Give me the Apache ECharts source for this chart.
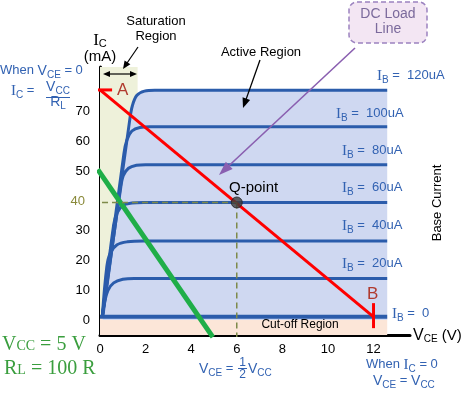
<!DOCTYPE html>
<html><head><meta charset="utf-8">
<script src="https://cdn.jsdelivr.net/npm/echarts@6/dist/echarts.min.js"></script>
<style>html,body{margin:0;padding:0;background:#fff}#c{width:464px;height:393px}</style>
</head><body><div id="c"></div>
<script>
// ---- data ----
const xTicks = [0, 2, 4, 6, 8, 10, 12];
const yTicks = [0, 10, 20, 30, 40, 50, 60, 70];
const curveIB0   = [[0, 1.1], [12.6, 1.1]];
const curveIB20  = [[0.1, 1.1], [0.2, 6], [0.35, 10], [0.6, 12.5], [1.0, 13.7], [1.5, 14.0], [12.6, 14.0]];
const curveIB40  = [[0.1, 1.1], [0.3, 18], [0.45, 22.5], [0.75, 25.3], [1.2, 26.3], [1.9, 26.6], [12.6, 26.6]];
const curveIB60  = [[0.1, 1.1], [0.6, 32], [0.75, 36], [1.0, 38.5], [1.4, 39.3], [1.9, 39.5], [12.6, 39.5]];
const curveIB80  = [[0.1, 1.1], [0.9, 44], [1.02, 48.5], [1.25, 51], [1.6, 52], [2.0, 52.2], [12.6, 52.2]];
const curveIB100 = [[0.1, 1.1], [1.05, 56], [1.18, 60.5], [1.4, 63.5], [1.75, 64.7], [2.2, 64.9], [12.6, 64.9]];
const curveIB120 = [[0.12, 1.1], [1.3, 67], [1.42, 72], [1.62, 75.5], [1.95, 76.9], [2.4, 77.2], [12.6, 77.2]];
const ibNames = ['120uA', '100uA', '80uA', '60uA', '40uA', '20uA', '0'];
const loadLine12V = [[0, 77.3], [12, 1.1]];
const markA = [[-0.53, 77.3], [0.53, 77.3]];
const markB = [[12, 5.7], [12, -2.7]];
const loadLine5V = [[-0.1, 50.6], [4.95, -5.7]];
const qPoint = [6, 39.5];
const qDashH = [[-0.35, 39.5], [6, 39.5]];
const qDashV = [[6, 39.5], [6, -5.7]];
const saturationX = [0, 1.65];
const cutoffTop = 1.1;

// ---- style ----
const BLUE = '#2b5cab', TB = '#3262b2', OLIVE = '#8a8a3a', DASH = '#7e8b4a';
const SANS = 'Liberation Sans', SERIF = 'Liberation Serif';

function curve(data, w, z) {
  return { type: 'line', data, symbol: 'none', smooth: 0.35, z: z || 3, silent: true,
    lineStyle: { color: BLUE, width: w || 3 }, animation: false };
}
function plain(data, color, w, z, dash) {
  return { type: 'line', data, symbol: 'none', clip: false, z, silent: true, animation: false,
    lineStyle: { color, width: w, type: dash ? [6, 4] : 'solid', cap: 'butt' } };
}
function richSet(color, big, sub, txt, pad) {
  return {
    i: { fontFamily: SERIF, fontSize: big, lineHeight: 18, verticalAlign: 'top', fill: color },
    v: { fontFamily: SANS, fontSize: txt + 1, lineHeight: 18, verticalAlign: 'top', fill: color },
    s: { fontFamily: SANS, fontSize: sub, lineHeight: sub, padding: [pad == null ? 6 : pad, 0, 0, 0], verticalAlign: 'top', fill: color },
    t: { fontFamily: SANS, fontSize: txt, lineHeight: 18, verticalAlign: 'top', fill: color }
  };
}
function txt(x, y, text, opts, rot) {
  const el = { type: 'text', x, y, z: 100, silent: true,
    style: Object.assign({ text, fontFamily: SANS, fontSize: 13, fill: '#000', align: 'left', verticalAlign: 'middle' }, opts || {}) };
  if (rot) el.rotation = rot;
  return el;
}
function arrow(x1, y1, x2, y2, color, w, hl, hw) {
  const a = Math.atan2(y2 - y1, x2 - x1), c = Math.cos(a), s = Math.sin(a);
  const bx = x2 - hl * c, by = y2 - hl * s;
  return [
    { type: 'line', z: 100, silent: true, shape: { x1, y1, x2: x2 - hl * 0.6 * c, y2: y2 - hl * 0.6 * s }, style: { stroke: color, lineWidth: w } },
    { type: 'polygon', z: 100, silent: true, shape: { points: [[x2, y2], [bx - hw * s, by + hw * c], [bx + hw * s, by - hw * c]] }, style: { fill: color } }
  ];
}

const ibRich = richSet(TB, 15, 10, 13);
const ibPos = [[377, 78], [336, 116], [342, 153], [342, 190], [342, 228], [342, 266], [392, 316]];
const graphics = [];
ibNames.forEach((n, k) => {
  graphics.push(txt(ibPos[k][0], ibPos[k][1], '{i|I}{s|B}{t| =  ' + n + '}', { rich: ibRich }));
});
// axis titles
graphics.push(txt(100, 41, '{i|I}{s|C}', { align: 'center', rich: richSet('#000', 17, 11, 15, 6) }));
graphics.push(txt(100, 57, '(mA)', { align: 'center', fontSize: 15 }));
graphics.push(txt(413, 337, '{v|V}{s|CE}{t| (V)}', { rich: richSet('#000', 16, 10, 15, 6) }));
graphics.push(txt(437, 203, 'Base Current', { align: 'center' }, Math.PI / 2));
// regions
graphics.push(txt(156, 21, 'Saturation', { align: 'center' }));
graphics.push(txt(156, 36, 'Region', { align: 'center' }));
graphics.push(...arrow(138, 47, 123, 69, '#000', 1.2, 8, 3.5));
graphics.push(...arrow(120, 74, 103, 74, '#000', 1.2, 7, 3));
graphics.push(...arrow(120, 74, 137, 74, '#000', 1.2, 7, 3));
graphics.push(txt(261, 52, 'Active Region', { align: 'center' }));
graphics.push(...arrow(260, 60, 243, 108, '#000', 1.3, 10, 4));
graphics.push(txt(300, 325, 'Cut-off Region', { align: 'center', fontSize: 12 }));
// DC load line callout
graphics.push({ type: 'rect', z: 99, silent: true, shape: { x: 349, y: 2, width: 78, height: 41, r: 8 },
  style: { fill: '#f3e6f3', stroke: '#9c83c0', lineWidth: 1.5, lineDash: [5, 3] } });
graphics.push(txt(388, 14, 'DC Load', { align: 'center', fontSize: 14, fill: '#7b6a9c' }));
graphics.push(txt(388, 29, 'Line', { align: 'center', fontSize: 14, fill: '#7b6a9c' }));
graphics.push(...arrow(355, 48, 219, 175, '#8a5fb0', 1.6, 14, 5));
// points
graphics.push(txt(117, 90, 'A', { fontSize: 17, fill: '#b03a2e' }));
graphics.push(txt(367, 294, 'B', { fontSize: 17, fill: '#b03a2e' }));
graphics.push(txt(229, 188, 'Q-point', { fontSize: 15 }));
// left formulas
const lb = richSet(TB, 15, 10, 13);
graphics.push(txt(0, 73, '{t|When }{v|V}{s|CE}{t| = 0}', { rich: lb }));
graphics.push(txt(11, 93, '{i|I}{s|C}{t| = }', { rich: lb }));
graphics.push(txt(58, 89, '{v|V}{s|CC}', { align: 'center', rich: lb }));
graphics.push({ type: 'line', z: 100, silent: true, shape: { x1: 46, y1: 97.5, x2: 70, y2: 97.5 }, style: { stroke: TB, lineWidth: 1 } });
graphics.push(txt(58, 104, '{v|R}{s|L}', { align: 'center', rich: lb }));
// bottom formulas
graphics.push(txt(199, 371, '{v|V}{s|CE}{t| = }', { rich: lb }));
graphics.push(txt(242.5, 363, '1', { align: 'center', fontSize: 12, fill: TB }));
graphics.push({ type: 'line', z: 100, silent: true, shape: { x1: 238, y1: 368.5, x2: 247, y2: 368.5 }, style: { stroke: TB, lineWidth: 1 } });
graphics.push(txt(242.5, 375, '2', { align: 'center', fontSize: 12, fill: TB }));
graphics.push(txt(248, 371, '{v|V}{s|CC}', { rich: lb }));
graphics.push(txt(366, 367, '{t|When }{i|I}{s|C}{t| = 0}', { rich: lb }));
graphics.push(txt(373, 383, '{v|V}{s|CE}{t| = }{v|V}{s|CC}', { rich: lb }));
// green supply text
const gr = {
  b: { fontFamily: SERIF, fontSize: 20, fill: '#3a9e3e', verticalAlign: 'bottom', lineHeight: 22 },
  m: { fontFamily: SERIF, fontSize: 14, fill: '#3a9e3e', verticalAlign: 'bottom', lineHeight: 22, padding: [0, 0, 2, 0] }
};
graphics.push(txt(2, 344, '{b|V}{m|CC}{b| = 5 V}', { rich: gr }));
graphics.push(txt(4, 368, '{b|R}{m|L}{b| = 100 R}', { rich: gr }));

const option = {
  animation: false,
  grid: { left: 100, right: 54, top: 67, bottom: 58 },
  xAxis: {
    type: 'value', min: 0, max: 13.6,
    axisLine: { show: true, onZero: false, lineStyle: { color: '#000', width: 3 } },
    axisTick: { show: false }, splitLine: { show: false },
    axisLabel: { customValues: xTicks, fontFamily: SANS, fontSize: 13, margin: 8,
      color: v => (v === 6 ? OLIVE : '#000') }
  },
  yAxis: {
    type: 'value', min: -5, max: 85,
    axisLine: { show: true, onZero: false, lineStyle: { color: '#000', width: 3 } },
    axisTick: { show: false }, splitLine: { show: false },
    axisLabel: { customValues: yTicks, fontFamily: SANS, fontSize: 13, margin: 10, color: '#000',
      formatter: v => (v === 40 ? '{o|40}' : String(v)),
      rich: { o: { color: OLIVE, fontFamily: SANS, fontSize: 13, padding: [0, 5, 0, 0] } } }
  },
  graphic: graphics,
  series: [
    { type: 'line', data: [[0, 0]], symbol: 'none', lineStyle: { opacity: 0 }, z: 0, silent: true,
      markArea: { silent: true, data: [
        [{ xAxis: saturationX[0], yAxis: cutoffTop, itemStyle: { color: '#eef1da' } }, { xAxis: saturationX[1], yAxis: 85 }],
        [{ xAxis: 0, yAxis: -5, itemStyle: { color: '#fce6d8' } }, { xAxis: 12.6, yAxis: cutoffTop }]
      ] } },
    Object.assign(curve(curveIB120, 0, 1), { areaStyle: { color: '#cfd8f1', opacity: 1 }, lineStyle: { width: 0 } }),
    curve(curveIB20), curve(curveIB40), curve(curveIB60), curve(curveIB80), curve(curveIB100), curve(curveIB120),
    curve(curveIB0, 4),
    plain(loadLine5V, '#1fae48', 5, 5),
    plain(loadLine12V, '#ff0000', 3, 6),
    plain(markA, '#ff0000', 3, 6),
    plain(markB, '#ff0000', 3, 6),
    plain(qDashH, DASH, 1.5, 7, true),
    plain(qDashV, DASH, 1.5, 7, true),
    { type: 'scatter', data: [qPoint], symbolSize: 11, z: 8, silent: true,
      itemStyle: { color: '#3c3c3c', borderColor: '#222', borderWidth: 1 } }
  ]
};
echarts.init(document.getElementById('c')).setOption(option);
</script>
</body></html>
